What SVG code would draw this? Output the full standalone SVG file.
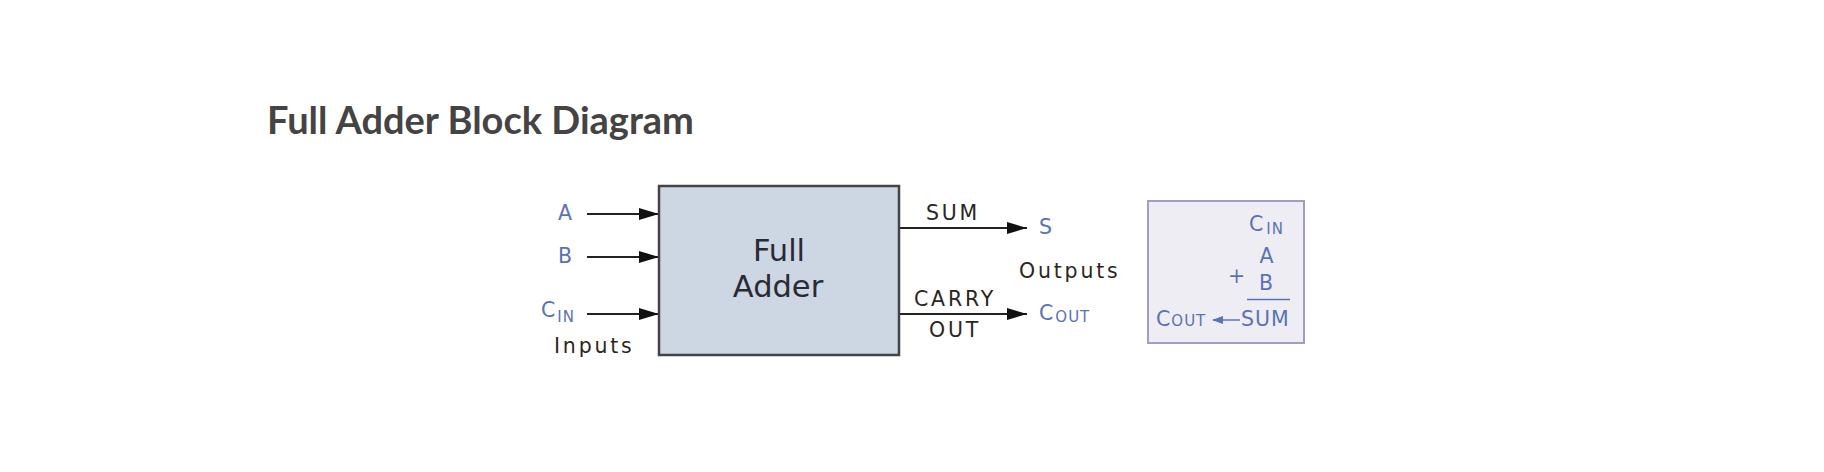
<svg xmlns="http://www.w3.org/2000/svg" width="1824" height="472" viewBox="0 0 1824 472">
<style>
.t{font-family:"DejaVu Sans",Verdana,sans-serif;}
.lbl{fill:#2c2622;font-size:20.5px;letter-spacing:2.8px;}
.blue{fill:#5a72b8;font-size:20.5px;}
.sub{font-size:15px;letter-spacing:1px;}
.wire{stroke:#222;stroke-width:2;fill:none;}
</style>
<defs>
<marker id="ah2" markerWidth="20" markerHeight="12" refX="20" refY="6" orient="auto" markerUnits="userSpaceOnUse" viewBox="0 0 20 12"><path d="M0,0L20,6L0,12z" fill="#111"/></marker>
<marker id="ahb" markerWidth="11" markerHeight="8" refX="10" refY="4" orient="auto" markerUnits="userSpaceOnUse" viewBox="0 0 11 8"><path d="M0,0L11,4L0,8z" fill="#5a72b8"/></marker>
</defs>
<rect width="1824" height="472" fill="#fff"/>
<text x="267" y="134" font-family="Lato,sans-serif" font-weight="bold" font-size="38" fill="#444">Full Adder Block Diagram</text>

<g id="connectors">
<line class="wire" x1="587" y1="214" x2="659" y2="214" marker-end="url(#ah2)"/>
<line class="wire" x1="587" y1="257" x2="659" y2="257" marker-end="url(#ah2)"/>
<line class="wire" x1="587" y1="314" x2="659" y2="314" marker-end="url(#ah2)"/>
<line class="wire" x1="899" y1="228" x2="1027" y2="228" marker-end="url(#ah2)"/>
<line class="wire" x1="899" y1="314" x2="1027" y2="314" marker-end="url(#ah2)"/>
</g>

<g id="inputs">
<text class="t blue" x="565" y="220" text-anchor="middle">A</text>
<text class="t blue" x="565" y="263" text-anchor="middle">B</text>
<text class="t blue" x="541" y="317">C<tspan class="sub" dx="2" dy="5">IN</tspan></text>
<text class="t lbl" x="554" y="353">Inputs</text>
</g>

<g id="full-adder">
<rect x="659" y="186" width="240" height="169" fill="#cdd6e3" stroke="#444" stroke-width="2.5"/>
<text class="t" x="779" y="261" text-anchor="middle" font-size="30.5" fill="#2a2a35">Full</text>
<text class="t" x="778" y="297" text-anchor="middle" font-size="30.5" fill="#2a2a35">Adder</text>
</g>

<g id="outputs">
<text class="t lbl" x="926" y="220">SUM</text>
<text class="t lbl" x="914" y="306">CARRY</text>
<text class="t lbl" x="929" y="337">OUT</text>
<text class="t blue" x="1039" y="234">S</text>
<text class="t lbl" x="1019" y="278">Outputs</text>
<text class="t blue" x="1039" y="320">C<tspan class="sub" dx="2" dy="2" font-size="14" letter-spacing="-0.5">OUT</tspan></text>
</g>

<g id="legend">
<rect x="1148" y="201" width="156" height="142" fill="#efedf4" stroke="#a69ac6" stroke-width="2"/>
<text class="t blue" x="1249" y="231">C<tspan class="sub" dx="3" dy="3">IN</tspan></text>
<text class="t blue" x="1266.5" y="263" text-anchor="middle">A</text>
<text class="t blue" x="1236.5" y="283" text-anchor="middle">+</text>
<text class="t blue" x="1266" y="290" text-anchor="middle">B</text>
<line x1="1247" y1="299.5" x2="1290" y2="299.5" stroke="#5a72b8" stroke-width="1.5"/>
<text class="t blue" x="1241" y="326" letter-spacing="1">SUM</text>
<text class="t blue" x="1156" y="326">C<tspan class="sub" dx="1" font-size="12.5" letter-spacing="-0.3">OUT</tspan></text>
<line x1="1240" y1="320" x2="1213" y2="320" stroke="#5a72b8" stroke-width="1.5" marker-end="url(#ahb)"/>
</g>
</svg>
